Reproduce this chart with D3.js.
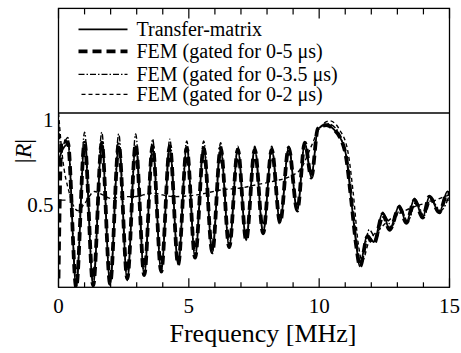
<!DOCTYPE html>
<html>
<head>
<meta charset="utf-8">
<script src="https://cdn.jsdelivr.net/npm/d3@7"></script>
</head>
<body style="margin:0">
<svg id="chart" width="461" height="353"></svg>
<script>
// Transfer-matrix result (frequency in MHz, |R|)
const tmFreq = [0, 0.1, 0.36, 0.68, 1.0, 1.33, 1.66, 1.98, 2.31, 2.64, 2.96, 3.29, 3.61, 3.94, 4.27, 4.59, 4.92, 5.24, 5.57, 5.9, 6.22, 6.55, 6.88, 7.2, 7.53, 7.85, 8.18, 8.5, 8.83, 9.16, 9.45, 9.7, 9.95, 10.27, 10.6, 10.8, 11.04, 11.23, 11.42, 11.55, 11.85, 12.1, 12.44, 12.7, 13.08, 13.34, 13.66, 13.97, 14.23, 14.61, 14.92, 15];
const tmR    = [0.72, 0.77, 0.82, 0.0, 0.82, 0.01, 0.82, 0.02, 0.81, 0.04, 0.81, 0.07, 0.8, 0.09, 0.8, 0.13, 0.8, 0.17, 0.8, 0.2, 0.79, 0.23, 0.79, 0.27, 0.79, 0.31, 0.79, 0.37, 0.8, 0.44, 0.83, 0.63, 0.91, 0.93, 0.9, 0.86, 0.75, 0.5, 0.25, 0.12, 0.3, 0.26, 0.43, 0.33, 0.47, 0.37, 0.51, 0.4, 0.52, 0.43, 0.55, 0.54];

// FEM gated 0-5 us
const fem5Freq = [0, 0.12, 0.36, 0.68, 1.0, 1.33, 1.66, 1.98, 2.31, 2.64, 2.96, 3.29, 3.61, 3.94, 4.27, 4.59, 4.92, 5.24, 5.57, 5.9, 6.22, 6.55, 6.88, 7.2, 7.53, 7.85, 8.18, 8.5, 8.83, 9.16, 9.45, 9.7, 9.95, 10.27, 10.6, 10.8, 11.04, 11.23, 11.42, 11.57, 11.85, 12.1, 12.44, 12.7, 13.08, 13.34, 13.66, 13.97, 14.23, 14.61, 14.92, 15];
const fem5R    = [0.05, 0.84, 0.83, 0.0, 0.83, 0.01, 0.83, 0.02, 0.82, 0.05, 0.82, 0.07, 0.81, 0.09, 0.81, 0.13, 0.8, 0.17, 0.8, 0.2, 0.8, 0.23, 0.79, 0.27, 0.79, 0.31, 0.79, 0.37, 0.8, 0.44, 0.83, 0.63, 0.91, 0.93, 0.9, 0.86, 0.74, 0.5, 0.24, 0.12, 0.29, 0.25, 0.42, 0.33, 0.46, 0.37, 0.5, 0.4, 0.52, 0.43, 0.54, 0.54];

// FEM gated 0-3.5 us
const fem35Freq = [0, 0.1, 0.36, 0.68, 1.0, 1.33, 1.66, 1.98, 2.31, 2.64, 2.96, 3.29, 3.61, 3.94, 4.27, 4.59, 4.92, 5.24, 5.57, 5.9, 6.22, 6.55, 6.88, 7.2, 7.53, 7.85, 8.18, 8.5, 8.83, 9.16, 9.45, 9.7, 9.95, 10.3, 10.65, 10.85, 11.08, 11.27, 11.46, 11.6, 11.92, 12.18, 12.5, 12.78, 13.12, 13.4, 13.72, 14.02, 14.3, 14.66, 15];
const fem35R    = [0.95, 0.8, 0.86, 0.02, 0.89, 0.02, 0.89, 0.03, 0.88, 0.05, 0.88, 0.08, 0.85, 0.1, 0.85, 0.14, 0.84, 0.18, 0.84, 0.21, 0.83, 0.24, 0.81, 0.28, 0.81, 0.32, 0.81, 0.38, 0.81, 0.45, 0.83, 0.64, 0.9, 0.94, 0.91, 0.85, 0.72, 0.47, 0.22, 0.13, 0.33, 0.28, 0.41, 0.35, 0.45, 0.38, 0.49, 0.41, 0.5, 0.44, 0.53];

// FEM gated 0-2 us
const fem2Freq = [0, 0.15, 0.4, 0.74, 1.0, 1.38, 1.7, 2.0, 2.5, 2.9, 3.6, 4.4, 5.3, 6.3, 7.0, 7.65, 8.3, 8.93, 9.3, 9.7, 10.0, 10.4, 10.8, 11.1, 11.3, 11.5, 11.65, 11.9, 12.3, 12.8, 13.3, 13.8, 14.3, 14.8, 15];
const fem2R    = [1.0, 0.75, 0.55, 0.44, 0.48, 0.55, 0.53, 0.51, 0.52, 0.52, 0.54, 0.52, 0.53, 0.56, 0.57, 0.59, 0.61, 0.64, 0.68, 0.81, 0.91, 0.955, 0.9, 0.78, 0.55, 0.25, 0.15, 0.26, 0.33, 0.4, 0.44, 0.47, 0.49, 0.52, 0.53];

const seriesNames = ["Transfer-matrix", "FEM (gated for 0-5 μs)", "FEM (gated for 0-3.5 μs)", "FEM (gated for 0-2 μs)"];

const xTickLabels = [0, 5, 10, 15];
const xMinorTicks = [1, 2, 3, 4, 6, 7, 8, 9, 11, 12, 13, 14];
const yTickLabels = [0.5, 1];

const svg = d3.select("#chart"),
      margin = { top: 8.4, right: 11.5, bottom: 65.7, left: 58.5 },
      width = +svg.attr("width") - margin.left - margin.right,
      height = +svg.attr("height") - margin.top - margin.bottom;

// serif text helper
function serif(sel, size) {
  return sel.style("font-family", '"Tinos"').attr("font-size", size);
}

const g = svg.append("g").attr("transform", `translate(${margin.left},${margin.top})`);

// Scales
const x = d3.scaleLinear().domain([0, 15]).range([0, width]);
const y = d3.scaleLinear().domain([0, 1.6]).range([height, 0]);

// Line styles
const styles = [
  { width: 1.8, dash: null },
  { width: 3.8, dash: "9,5" },
  { width: 1.4, dash: "6,2,1.5,2" },
  { width: 1.4, dash: "4,3" }
];

const series = [
  { f: tmFreq, r: tmR },
  { f: fem5Freq, r: fem5R },
  { f: fem35Freq, r: fem35R },
  { f: fem2Freq, r: fem2R }
].map((s, i) => ({ name: seriesNames[i], values: s.f.map((f, j) => ({ f: f, r: s.r[j] })) }));

const line = d3.line()
  .x(d => x(d.f))
  .y(d => y(d.r))
  .curve(d3.curveMonotoneX);

// clip to plot area below |R| = 1
g.append("clipPath").attr("id", "clip")
  .append("rect").attr("y", y(1)).attr("width", width).attr("height", height - y(1));

// draw lines (solid on top of the thick dashes)
[1, 3, 2, 0].forEach(i => {
  g.append("path")
    .datum(series[i].values)
    .attr("clip-path", "url(#clip)")
    .attr("fill", "none")
    .attr("stroke", "#000")
    .attr("stroke-width", styles[i].width)
    .attr("stroke-dasharray", styles[i].dash)
    .attr("d", line);
});

g.append("line")
  .attr("x1", 0).attr("x2", width)
  .attr("y1", y(1)).attr("y2", y(1))
  .attr("stroke", "#000").attr("stroke-width", 1.3);

// Ticks (inward)
const tickG = g.append("g").attr("stroke", "#000").attr("stroke-width", 1.2);
xMinorTicks.forEach(t => {
  tickG.append("line").attr("x1", x(t)).attr("x2", x(t)).attr("y1", height).attr("y2", height - 5);
  tickG.append("line").attr("x1", x(t)).attr("x2", x(t)).attr("y1", 0).attr("y2", 6);
});
xTickLabels.forEach(t => {
  tickG.append("line").attr("x1", x(t)).attr("x2", x(t)).attr("y1", height).attr("y2", height - 9);
  tickG.append("line").attr("x1", x(t)).attr("x2", x(t)).attr("y1", 0).attr("y2", 10);
});
tickG.append("line").attr("x1", 0).attr("x2", 7).attr("y1", y(0.5)).attr("y2", y(0.5));
tickG.append("line").attr("x1", width).attr("x2", width - 7).attr("y1", y(0.5)).attr("y2", y(0.5));

// Frame
g.append("rect")
  .attr("width", width).attr("height", height)
  .attr("fill", "none")
  .attr("stroke", "#000")
  .attr("stroke-width", 1.3);

// Tick labels
xTickLabels.forEach(t => {
  serif(g.append("text"), 21)
    .attr("x", x(t))
    .attr("y", height + 26)
    .attr("text-anchor", "middle")
    .text(t);
});

yTickLabels.forEach(t => {
  serif(g.append("text"), 21)
    .attr("x", -5)
    .attr("y", y(t) + (t === 1 ? 14 : 12))
    .attr("text-anchor", "end")
    .text(t);
});

// Axis titles
serif(svg.append("text"), 26)
  .attr("x", 263)
  .attr("y", 342)
  .attr("text-anchor", "middle")
  .text("Frequency [MHz]");

const yt = serif(svg.append("text"), 24)
  .attr("transform", "translate(31,151) rotate(-90)")
  .attr("text-anchor", "middle");
yt.append("tspan").text("|");
yt.append("tspan").attr("font-style", "italic").text("R");
yt.append("tspan").text("|");

// Legend
const rowY = [21, 43, 66, 86];
series.forEach((s, i) => {
  const row = g.append("g").attr("transform", `translate(0, ${rowY[i]})`);
  row.append("line")
    .attr("x1", i === 3 ? 23 : 20).attr("x2", 69)
    .attr("y1", 0).attr("y2", 0)
    .attr("stroke", "#000")
    .attr("stroke-width", styles[i].width)
    .attr("stroke-dasharray", styles[i].dash);
  serif(row.append("text"), 20)
    .attr("x", 78)
    .attr("y", 6.5)
    .text(s.name);
});
</script>
</body>
</html>
